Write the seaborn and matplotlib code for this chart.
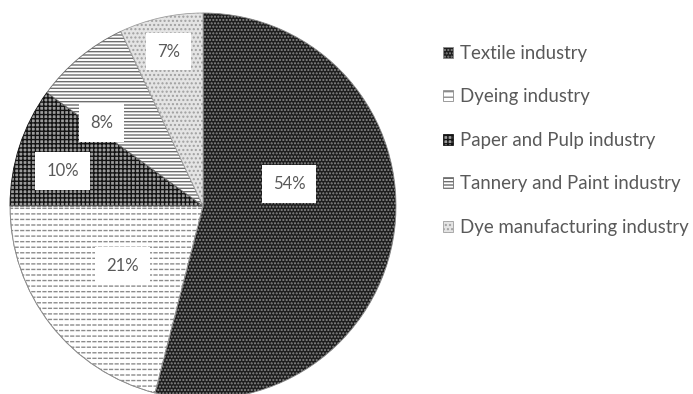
import numpy as np
import matplotlib
matplotlib.use("Agg")
import matplotlib.pyplot as plt
from matplotlib.patches import Wedge
import seaborn as sns

sns.set_theme(style="white")
plt.rcParams['font.family'] = ['Lato', 'DejaVu Sans']
plt.rcParams['hatch.linewidth'] = 1.0

# data
industries = ["Textile industry", "Dyeing industry", "Paper and Pulp industry",
              "Tannery and Paint industry", "Dye manufacturing industry"]
shares = [54, 21, 10, 8, 7]

# styles
faces = ["#1e1e1e", "white", "#9c9c9c", "white", "#e4e4e4"]
hatch_cols = ["#8a8a8a", "#8c8c8c", "#141414", "#6e6e6e", "#a0a0a0"]
hatches = [".....", "---", "++++", "-----", "...."]
# label placement: radius (fraction of r) and angle shift from slice middle
label_r = [0.46, 0.52, 0.75, 0.68, 0.82]
label_shift = [21.7, -1.0, 4.0, 11.0, 0.0]
text_col = "#595959"

W, H = 693, 394
fig = plt.figure(figsize=(W / 100, H / 100), dpi=100)
cx, cy, rad = 203, 206, 193
ax = fig.add_axes([(cx - rad) / W, (H - cy - rad) / H, 2 * rad / W, 2 * rad / H])

wedges, _ = ax.pie(shares, startangle=90, counterclock=False, radius=1,
                   wedgeprops=dict(linewidth=0.6))
for w, fc, hc, ht in zip(wedges, faces, hatch_cols, hatches):
    w.set_facecolor(fc)
    w.set_edgecolor(hc)
    w.set_hatch(ht)

# break Dyeing lines into short dashes
d = wedges[1]
ax.add_patch(Wedge(d.center, d.r, d.theta1, d.theta2, facecolor="none",
                   edgecolor="white", hatch="|||", linewidth=0))
ax.add_patch(Wedge(d.center, d.r, d.theta1, d.theta2, facecolor="none",
                   edgecolor="#8c8c8c", linewidth=0.6))

ax.set_xlim(-1, 1)
ax.set_ylim(-1, 1)
ax.set_aspect("auto")
ax.axis("off")

for w, v, r, sh in zip(wedges, shares, label_r, label_shift):
    mid = np.deg2rad((w.theta1 + w.theta2) / 2 + sh)
    ax.text(r * np.cos(mid), r * np.sin(mid), f"{v}%", ha="center", va="center",
            fontsize=12, color=text_col, zorder=5,
            bbox=dict(boxstyle="square,pad=0.65", fc="white", ec="none"))

leg = fig.legend(wedges, industries, loc="upper left",
                 bbox_to_anchor=(443 / W, 1 - 45 / H), frameon=False,
                 fontsize=13.4, handlelength=0.55, handleheight=0.55,
                 handletextpad=0.35, labelspacing=1.42, borderpad=0,
                 borderaxespad=0)
for t in leg.get_texts():
    t.set_color(text_col)

fig.savefig("out.png", dpi=100)
